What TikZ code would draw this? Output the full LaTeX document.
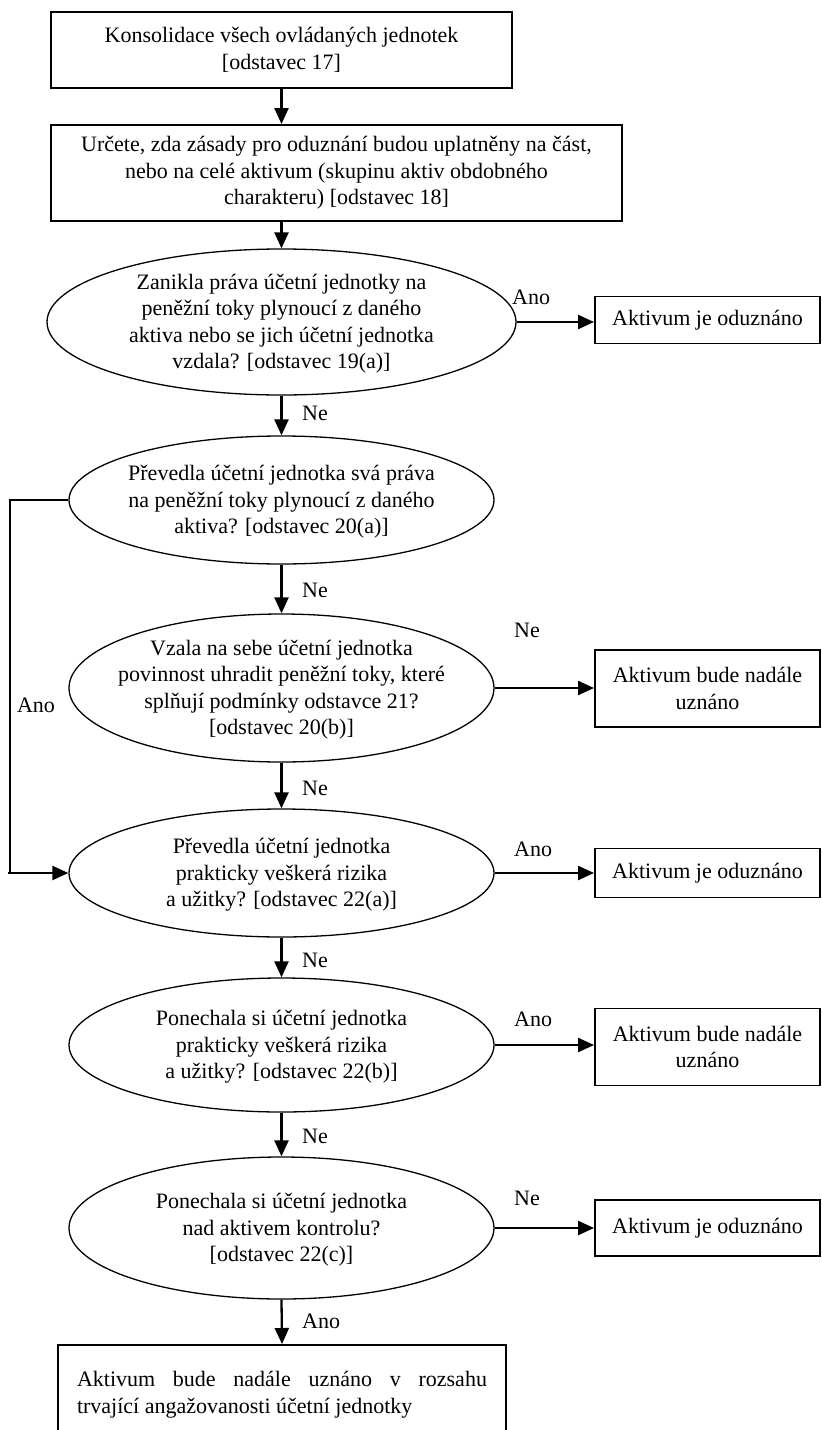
\documentclass[tikz,border=0pt]{standalone}
\usepackage{fontspec}
\setmainfont{Liberation Serif}
\usetikzlibrary{shapes.geometric,arrows.meta}
% centred multi-line text that does not enlarge its ellipse
\newcommand\ovaltext[1]{\smash{\makebox[0pt]{\raisebox{-0.32em}{\begin{tabular}{@{}c@{}}#1\end{tabular}}}}}
\begin{document}
\begin{tikzpicture}[x=1pt,y=-1pt,
  every node/.style={font=\fontsize{22}{26.5}\selectfont},
  box/.style={draw, line width=1.9pt, rectangle, inner sep=0pt, align=center},
  oval/.style={draw, line width=1.3pt, ellipse, inner sep=0pt, minimum width=425pt},
  arr/.style={line width=2.3pt, -{Triangle[length=16pt,width=14pt]}},
  lbl/.style={inner sep=0pt}
]
\useasboundingbox (0,0) rectangle (822,1430);

% main column
\node[box, minimum width=461pt, minimum height=76pt] (b1) at (281.5,50)
  {Konsolidace všech ovládaných jednotek\\{[}odstavec 17]};
\node[box, minimum width=571pt, minimum height=96pt] (b2) at (336.5,173)
  {Určete, zda zásady pro oduznání budou uplatněny na část,\\nebo na celé aktivum (skupinu aktiv obdobného\\charakteru) {[}odstavec 18]};
\node[oval, minimum width=469pt, minimum height=146pt] (e1) at (281.5,322)
  {\ovaltext{Zanikla práva účetní jednotky na\\peněžní toky plynoucí z daného\\aktiva nebo se jich účetní jednotka\\vzdala? {[}odstavec 19(a)]}};
\node[oval, minimum height=128pt] (e2) at (281.5,500)
  {\ovaltext{Převedla účetní jednotka svá práva\\na peněžní toky plynoucí z daného\\aktiva? {[}odstavec 20(a)]}};
\node[oval, minimum height=148pt] (e3) at (281.5,688)
  {\ovaltext{Vzala na sebe účetní jednotka\\povinnost uhradit peněžní toky, které\\splňují podmínky odstavce 21?\\{[}odstavec 20(b)]}};
\node[oval, minimum height=128pt] (e4) at (281.5,873)
  {\ovaltext{Převedla účetní jednotka\\prakticky veškerá rizika\\a užitky? {[}odstavec 22(a)]}};
\node[oval, minimum height=134pt] (e5) at (281.5,1045)
  {\ovaltext{Ponechala si účetní jednotka\\prakticky veškerá rizika\\a užitky? {[}odstavec 22(b)]}};
\node[oval, minimum height=142pt] (e6) at (281.5,1228)
  {\ovaltext{Ponechala si účetní jednotka\\nad aktivem kontrolu?\\{[}odstavec 22(c)]}};
\node[box, minimum width=448pt, minimum height=100pt, anchor=north] (b3) at (282,1344)
  {\parbox{410pt}{\fontsize{22}{27}\selectfont Aktivum bude nadále uznáno v~rozsahu\linebreak
   trvající angažovanosti účetní jednotky}};

% outcome boxes on the right
\node[box, minimum width=225pt, minimum height=47pt] (r1) at (707.5,320) {Aktivum je oduznáno};
\node[box, minimum width=225pt, minimum height=77pt] (r2) at (707.5,688.5) {Aktivum bude nadále\\uznáno};
\node[box, minimum width=225pt, minimum height=49pt] (r3) at (707.5,873) {Aktivum je oduznáno};
\node[box, minimum width=225pt, minimum height=77pt] (r4) at (707.5,1047) {Aktivum bude nadále\\uznáno};
\node[box, minimum width=225pt, minimum height=56pt] (r5) at (707.5,1228) {Aktivum je oduznáno};

% vertical flow
\draw[arr] (b1.south -| e1.north) -- (b2.north -| e1.north);
\draw[arr] (b2.south -| e1.north) -- (e1.north);
\draw[arr] (e1.south) -- (e2.north);
\draw[arr] (e2.south) -- (e3.north);
\draw[arr] (e3.south) -- (e4.north);
\draw[arr] (e4.south) -- (e5.north);
\draw[arr] (e5.south) -- (e6.north);
\draw[arr] (e6.south) -- (b3.north);

% branches to the right
\draw[arr] (e1.east) -- (e1.east -| r1.west);
\draw[arr] (e3.east) -- (e3.east -| r2.west);
\draw[arr] (e4.east) -- (e4.east -| r3.west);
\draw[arr] (e5.east) -- (e5.east -| r4.west);
\draw[arr] (e6.east) -- (e6.east -| r5.west);

% bypass on the left
\coordinate (lx) at (10,0);
\draw[line width=2pt] (e2.west) -- (e2.west -| lx) -- (lx |- e4.west);
\draw[arr] ([xshift=-2pt]lx |- e4.west) -- (e4.west);

% answer labels
\node[lbl, anchor=west] (n1) at (302,413) {Ne};
\node[lbl, anchor=west] (n2) at (302,590) {Ne};
\node[lbl, anchor=west] (n3) at (302,788) {Ne};
\node[lbl, anchor=west] (n4) at (302,960) {Ne};
\node[lbl, anchor=west] (n5) at (302,1136) {Ne};
\node[lbl, anchor=west] (n6) at (302,1321) {Ano};
\node[lbl, anchor=west] (a1) at (512,297) {Ano};
\node[lbl, anchor=west] (a2) at (514,630) {Ne};
\node[lbl, anchor=west] (a3) at (514,849) {Ano};
\node[lbl, anchor=west] (a4) at (514,1019) {Ano};
\node[lbl, anchor=west] (a5) at (514,1198) {Ne};
\node[lbl] (a6) at (36,705) {Ano};
\end{tikzpicture}
\end{document}
